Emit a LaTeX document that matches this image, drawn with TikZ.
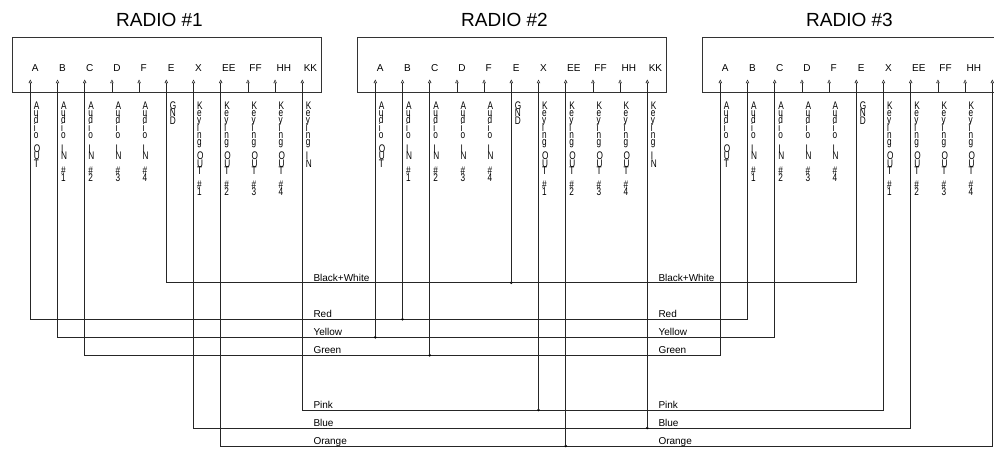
\documentclass[tikz,border=0pt]{standalone}
\usepackage{fontspec}
\setmainfont{Liberation Sans}
\newfontfamily\narrowfont[FakeStretch=0.75]{Liberation Sans}
\usetikzlibrary{arrows.meta,calc}
\newcommand\gp{7.2pt}
\newcommand\lblAout{A\\u\\d\\i\\o\\[\gp]O\\U\\T}
\newcommand\lblAin[1]{A\\u\\d\\i\\o\\[\gp]I\\N\\[\gp]\#\\#1}
\newcommand\lblKout[1]{K\\e\\y\\i\\n\\g\\[\gp]O\\U\\T\\[\gp]\#\\#1}
\newcommand\lblKin{K\\e\\y\\i\\n\\g\\[\gp]I\\N}
\newcommand\lblGnd{G\\N\\D}
\begin{document}
\begin{tikzpicture}[x=1pt,y=-1pt,
  pintip/.tip={Triangle[open,length=3.6pt,width=3.4pt,line width=0.5pt]},
  wire/.style={line width=0.7pt,draw=black!85},
  radiobox/.style={draw=black!80,line width=0.75pt,minimum width=309pt,minimum height=54.7pt,inner sep=0pt},
  title/.style={font=\fontsize{19}{22}\selectfont,anchor=base,inner sep=0pt},
  pinlab/.style={font=\fontsize{10}{12}\selectfont,anchor=base west,inner sep=0pt},
  vlab/.style={font={\narrowfont\fontsize{11}{7.2}\selectfont\lineskiplimit=-20pt},align=left,anchor=north west,inner sep=0pt},
  wlab/.style={font=\fontsize{10}{12}\selectfont,anchor=base west,inner sep=0pt},
  dot/.style={circle,fill=black,inner sep=0pt,minimum size=2.8pt}]
\useasboundingbox (0,0) rectangle (994,450);
\clip (0,0) rectangle (994,450);
% radios
\foreach \r/\dx in {1/0,2/345,3/690}{
  \node[radiobox] (box\r) at (166.5+\dx,64.65) {};
  \node[title] (title\r) at (159.5+\dx,26.7) {RADIO \#\r};
  \foreach \p [count=\k from 0] in {A,B,C,D,F,E,X,EE,FF,HH,KK}{
    \coordinate (r\r\p) at (30.3+\dx+27.2*\k,79.5);
    \node[pinlab] (pl\r\p) at ($(r\r\p)+(1.3,-7.8)$) {\p};
  }
  \foreach \p/\lab in {A/\lblAout,B/\lblAin{1},C/\lblAin{2},D/\lblAin{3},F/\lblAin{4},E/\lblGnd,X/\lblKout{1},EE/\lblKout{2},FF/\lblKout{3},HH/\lblKout{4},KK/\lblKin}{
    \node[vlab] (vl\r\p) at ($(r\r\p)+(3.4,22.3)$) {\lab};
  }
  \foreach \p in {D,F,FF,HH}{
    \draw[wire,-pintip] (r\r\p |- box\r.south) -- (r\r\p);
  }
}
% wire levels
\coordinate (yBW) at (0,282.7);
\coordinate (yR) at (0,319.3);
\coordinate (yY) at (0,337.3);
\coordinate (yG) at (0,355.3);
\coordinate (yP) at (0,410);
\coordinate (yB) at (0,428);
\coordinate (yO) at (0,446);
% main wires
\draw[wire,pintip-pintip] (r1E) -- (r1E |- yBW) -- (r3E |- yBW) -- (r3E);
\draw[wire,pintip-pintip] (r1A) -- (r1A |- yR) -- (r3B |- yR) -- (r3B);
\draw[wire,pintip-pintip] (r1B) -- (r1B |- yY) -- (r3C |- yY) -- (r3C);
\draw[wire,pintip-pintip] (r1C) -- (r1C |- yG) -- (r3A |- yG) -- (r3A);
\draw[wire,pintip-pintip] (r1KK) -- (r1KK |- yP) -- (r3X |- yP) -- (r3X);
\draw[wire,pintip-pintip] (r1X) -- (r1X |- yB) -- (r3EE |- yB) -- (r3EE);
\draw[wire,pintip-pintip] (r1EE) -- (r1EE |- yO) -- (r3KK |- yO) -- (r3KK);
% junctions at radio 2
\node[dot] (jBW) at (r2E |- yBW) {};
\node[dot] (jR) at (r2B |- yR) {};
\node[dot] (jY) at (r2A |- yY) {};
\node[dot] (jG) at (r2C |- yG) {};
\node[dot] (jP) at (r2X |- yP) {};
\node[dot] (jB) at (r2KK |- yB) {};
\node[dot] (jO) at (r2EE |- yO) {};
\draw[wire,-pintip] (jBW.center) -- (r2E);
\draw[wire,-pintip] (jR.center) -- (r2B);
\draw[wire,-pintip] (jY.center) -- (r2A);
\draw[wire,-pintip] (jG.center) -- (r2C);
\draw[wire,-pintip] (jP.center) -- (r2X);
\draw[wire,-pintip] (jB.center) -- (r2KK);
\draw[wire,-pintip] (jO.center) -- (r2EE);
% wire labels
\foreach \lx/\s in {313.3/a,658.3/b}{
  \node[wlab] (lBW\s) at (\lx,281.2) {Black+White};
  \node[wlab] (lR\s) at (\lx,317.8) {Red};
  \node[wlab] (lY\s) at (\lx,335.8) {Yellow};
  \node[wlab] (lG\s) at (\lx,353.8) {Green};
  \node[wlab] (lP\s) at (\lx,408.5) {Pink};
  \node[wlab] (lB\s) at (\lx,426.5) {Blue};
  \node[wlab] (lO\s) at (\lx,444.5) {Orange};
}
\end{tikzpicture}
\end{document}
